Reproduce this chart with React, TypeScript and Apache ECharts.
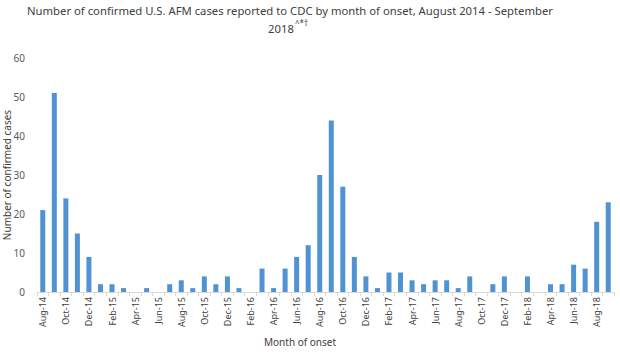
import React, { useEffect, useRef } from "react";
import * as echarts from "echarts";

const months: string[] = [
  "Aug-14","Sep-14","Oct-14","Nov-14","Dec-14",
  "Jan-15","Feb-15","Mar-15","Apr-15","May-15","Jun-15","Jul-15","Aug-15","Sep-15","Oct-15","Nov-15","Dec-15",
  "Jan-16","Feb-16","Mar-16","Apr-16","May-16","Jun-16","Jul-16","Aug-16","Sep-16","Oct-16","Nov-16","Dec-16",
  "Jan-17","Feb-17","Mar-17","Apr-17","May-17","Jun-17","Jul-17","Aug-17","Sep-17","Oct-17","Nov-17","Dec-17",
  "Jan-18","Feb-18","Mar-18","Apr-18","May-18","Jun-18","Jul-18","Aug-18","Sep-18",
];

const cases: number[] = [
  21, 51, 24, 15, 9,
  2, 2, 1, 0, 1, 0, 2, 3, 1, 4, 2, 4,
  1, 0, 6, 1, 6, 9, 12, 30, 44, 27, 9, 4,
  1, 5, 5, 3, 2, 3, 3, 1, 4, 0, 2, 4,
  0, 4, 0, 2, 2, 7, 6, 18, 23,
];

const yTicks = { min: 0, max: 60, interval: 10 };

const titleLine1 =
  "Number of confirmed U.S. AFM cases reported to CDC by month of onset, August 2014 - September";
const titleLine2 = "2018";
const titleSup = "^*†";
const yAxisName = "Number of confirmed cases";
const xAxisName = "Month of onset";

const FONT = "'Noto Sans', sans-serif";

export default function App() {
  const ref = useRef<HTMLDivElement>(null);
  useEffect(() => {
    if (!ref.current) return;
    const chart = echarts.init(ref.current, undefined, { renderer: "svg" });
    chart.setOption({
      animation: false,
      backgroundColor: "#ffffff",
      textStyle: { fontFamily: FONT },
      grid: {
        left: 37,
        right: 6,
        top: 58,
        bottom: 60,
        containLabel: false,
        outerBoundsMode: "none",
      },
      graphic: [
        {
          type: "text",
          x: 290,
          y: 5,
          style: {
            text: titleLine1,
            fontFamily: FONT,
            fontSize: 11.3,
            fill: "#404040",
            textAlign: "center",
          },
        },
        {
          type: "text",
          x: 268,
          y: 23,
          style: {
            text: titleLine2,
            fontFamily: FONT,
            fontSize: 11.3,
            fill: "#404040",
          },
        },
        {
          type: "text",
          x: 295,
          y: 18,
          style: {
            text: titleSup,
            fontFamily: FONT,
            fontSize: 8,
            fill: "#404040",
          },
        },
        {
          type: "text",
          x: 300,
          y: 337,
          style: {
            text: xAxisName,
            fontFamily: FONT,
            fontSize: 10,
            fill: "#404040",
            textAlign: "center",
          },
        },
        {
          type: "text",
          x: 2,
          y: 175,
          rotation: Math.PI / 2,
          style: {
            text: yAxisName,
            fontFamily: FONT,
            fontSize: 10,
            fill: "#404040",
            textAlign: "center",
            textVerticalAlign: "top",
          },
        },
      ],
      xAxis: {
        type: "category",
        data: months,
        boundaryGap: true,
        axisLine: { show: true, lineStyle: { color: "#d9d9d9", width: 1 } },
        axisTick: { show: true, interval: 0, length: 4, lineStyle: { color: "#d9d9d9" } },
        axisLabel: {
          interval: 1,
          rotate: 90,
          fontSize: 9,
          color: "#404040",
          fontFamily: FONT,
          margin: 5,
        },
        splitLine: { show: false },
      },
      yAxis: {
        type: "value",
        min: yTicks.min,
        max: yTicks.max,
        interval: yTicks.interval,
        axisLine: { show: false },
        axisTick: { show: false },
        splitLine: { show: false },
        axisLabel: { fontSize: 10, color: "#595959", fontFamily: FONT, margin: 12 },
      },
      series: [
        {
          type: "bar",
          data: cases,
          barWidth: 5,
          itemStyle: { color: "#4f93d2" },
        },
      ],
    });
    return () => chart.dispose();
  }, []);
  return (
    <div
      ref={ref}
      style={{ position: "fixed", left: 0, top: 0, width: 620, height: 352 }}
    />
  );
}
